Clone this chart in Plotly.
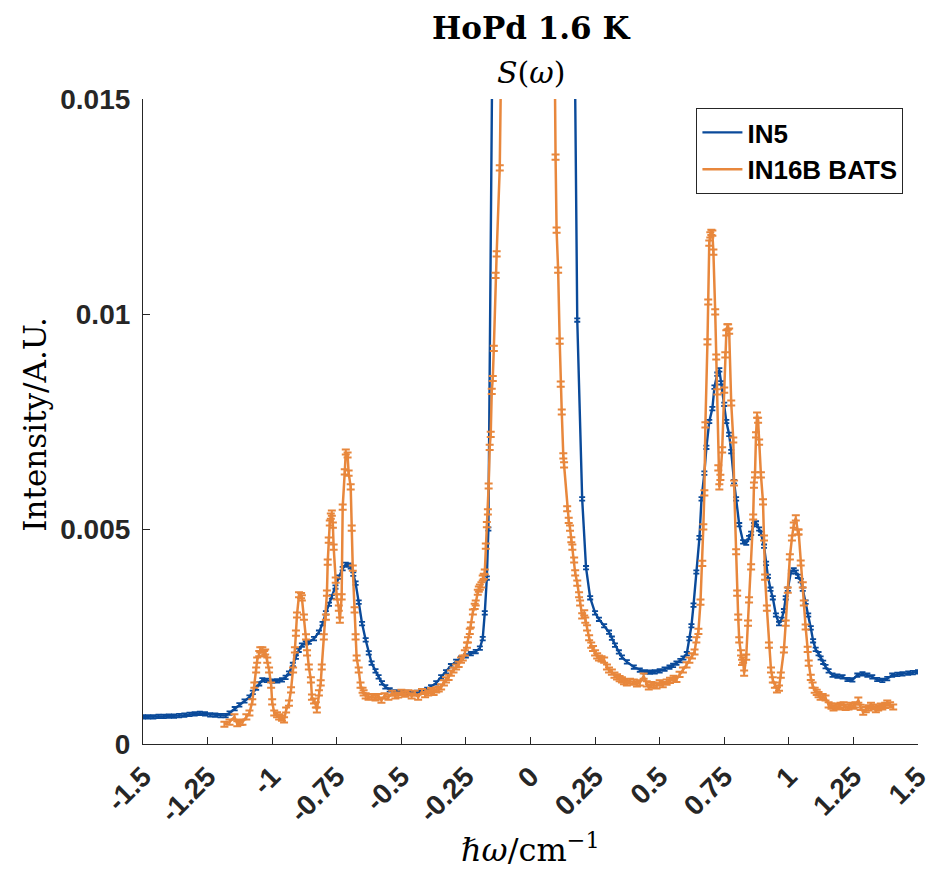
import plotly.graph_objects as go

# ---------------- data ----------------
in5_x = [-1.5, -1.48, -1.46, -1.44, -1.42, -1.40, -1.38, -1.36, -1.34, -1.32, -1.30, -1.28, -1.26, -1.24,
         -1.22, -1.20, -1.18, -1.165, -1.145, -1.127, -1.107, -1.088, -1.075, -1.062, -1.05, -1.038,
         -1.02, -1.0, -0.98, -0.962, -0.948, -0.935, -0.92, -0.908, -0.897, -0.885, -0.87, -0.858,
         -0.838, -0.819, -0.805, -0.792, -0.78, -0.769, -0.755, -0.742, -0.727, -0.715, -0.704, -0.696,
         -0.686, -0.677, -0.665, -0.652, -0.638, -0.626, -0.615, -0.600, -0.588, -0.575, -0.562, -0.545,
         -0.523, -0.500, -0.480, -0.462, -0.440, -0.423, -0.400, -0.385, -0.365, -0.346, -0.327, -0.308,
         -0.288, -0.269, -0.250, -0.231, -0.212, -0.196, -0.185, -0.177, -0.169, -0.163, -0.148, -0.131,
         -0.114, -0.08, -0.04, 0.0, 0.04, 0.08, 0.114, 0.131, 0.147, 0.164, 0.181, 0.200, 0.215, 0.231,
         0.250, 0.265, 0.285, 0.304, 0.315, 0.327, 0.342, 0.354, 0.373, 0.400, 0.423, 0.442, 0.462,
         0.481, 0.500, 0.519, 0.538, 0.552, 0.565, 0.580, 0.592, 0.605, 0.615, 0.623, 0.631, 0.642,
         0.654, 0.662, 0.673, 0.681, 0.692, 0.704, 0.712, 0.723, 0.731, 0.738, 0.750, 0.758, 0.769,
         0.777, 0.788, 0.796, 0.808, 0.823, 0.835, 0.846, 0.854, 0.865, 0.873, 0.885, 0.892, 0.904,
         0.912, 0.919, 0.929, 0.938, 0.950, 0.962, 0.972, 0.981, 0.988, 0.996, 1.008, 1.019, 1.027,
         1.035, 1.046, 1.054, 1.065, 1.075, 1.085, 1.094, 1.104, 1.115, 1.123, 1.133, 1.142, 1.154,
         1.169, 1.188, 1.208, 1.227, 1.246, 1.265, 1.285, 1.304, 1.323, 1.342, 1.362, 1.381, 1.400,
         1.420, 1.440, 1.462, 1.480, 1.500]
in5_y = [0.00063, 0.00063, 0.00063, 0.00064, 0.00064, 0.00065, 0.00065, 0.00066, 0.00067, 0.00069,
         0.00070, 0.00071, 0.00070, 0.00068, 0.00067, 0.00066, 0.00066, 0.00072, 0.00082, 0.00091,
         0.00100, 0.00109, 0.00120, 0.00130, 0.00140, 0.00149, 0.00148, 0.00146, 0.00147, 0.00149,
         0.00155, 0.00165, 0.00185, 0.00202, 0.00218, 0.00230, 0.00235, 0.00237, 0.00245, 0.00260,
         0.00280, 0.00305, 0.00325, 0.00342, 0.00365, 0.00388, 0.00408, 0.00418, 0.00416, 0.00412,
         0.00395, 0.00374, 0.00330, 0.00280, 0.00242, 0.00212, 0.00188, 0.00170, 0.00156, 0.00142,
         0.00133, 0.00126, 0.00121, 0.00121, 0.00120, 0.00119, 0.00120, 0.00122, 0.00127, 0.00133,
         0.00142, 0.00156, 0.00168, 0.00182, 0.00192, 0.00200, 0.00205, 0.00210, 0.00215, 0.00223,
         0.00245, 0.00305, 0.00386, 0.00500, 0.01600, 0.03500, 0.06000, 0.12000, 0.20000, 0.25000,
         0.20000, 0.12000, 0.06000, 0.04000, 0.03000, 0.02100, 0.00986, 0.00570, 0.00410, 0.00340,
         0.00305, 0.00290, 0.00275, 0.00260, 0.00246, 0.00230, 0.00214, 0.00202, 0.00191, 0.00179,
         0.00172, 0.00168, 0.00167, 0.00168, 0.00170, 0.00174, 0.00179, 0.00183, 0.00188, 0.00194,
         0.00200, 0.00210, 0.00245, 0.00275, 0.00323, 0.00400, 0.00480, 0.00570, 0.00630, 0.00690,
         0.00750, 0.00780, 0.00830, 0.00860, 0.00870, 0.00840, 0.00790, 0.00750, 0.00720, 0.00680,
         0.00610, 0.00570, 0.00510, 0.00470, 0.00467, 0.00480, 0.00490, 0.00510, 0.00514, 0.00500,
         0.00490, 0.00460, 0.00420, 0.00390, 0.00360, 0.00340, 0.00300, 0.00280, 0.00290, 0.00310,
         0.00340, 0.00360, 0.00400, 0.00405, 0.00400, 0.00390, 0.00380, 0.00360, 0.00330, 0.00300,
         0.00270, 0.00240, 0.00220, 0.00210, 0.00200, 0.00190, 0.00180, 0.00170, 0.00160, 0.00158,
         0.00156, 0.00150, 0.00149, 0.00160, 0.00163, 0.00160, 0.00156, 0.00150, 0.00148, 0.00152,
         0.00160, 0.00162, 0.00163, 0.00165, 0.00166, 0.00168]

in16b_x = [-1.185, -1.165, -1.146, -1.135, -1.123, -1.115, -1.100, -1.088, -1.077, -1.069, -1.062,
           -1.058, -1.050, -1.046, -1.038, -1.031, -1.027, -1.019, -1.012, -1.004, -1.000, -0.992,
           -0.981, -0.973, -0.962, -0.954, -0.946, -0.935, -0.927, -0.919, -0.912, -0.908, -0.904,
           -0.896, -0.888, -0.885, -0.877, -0.869, -0.865, -0.858, -0.850, -0.846, -0.838, -0.831,
           -0.827, -0.819, -0.812, -0.808, -0.800, -0.792, -0.788, -0.785, -0.781, -0.777, -0.773,
           -0.769, -0.765, -0.762, -0.754, -0.750, -0.742, -0.738, -0.731, -0.727, -0.719, -0.715,
           -0.708, -0.704, -0.696, -0.692, -0.688, -0.681, -0.677, -0.673, -0.665, -0.658, -0.650,
           -0.646, -0.638, -0.627, -0.615, -0.600, -0.588, -0.577, -0.565, -0.550, -0.535, -0.523,
           -0.512, -0.500, -0.485, -0.473, -0.460, -0.448, -0.435, -0.420, -0.408, -0.396, -0.385,
           -0.375, -0.365, -0.355, -0.346, -0.335, -0.327, -0.317, -0.308, -0.298, -0.288, -0.278,
           -0.269, -0.262, -0.254, -0.246, -0.242, -0.235, -0.231, -0.223, -0.216, -0.212, -0.204,
           -0.200, -0.196, -0.190, -0.185, -0.181, -0.177, -0.173, -0.169, -0.165, -0.162, -0.158,
           -0.154, -0.150, -0.146, -0.142, -0.135, -0.131, -0.119, -0.108, -0.090, -0.060, -0.030,
           0.000, 0.030, 0.060, 0.080, 0.090, 0.097, 0.101, 0.107, 0.113, 0.117, 0.121, 0.127, 0.130,
           0.142, 0.148, 0.153, 0.158, 0.162, 0.169, 0.173, 0.181, 0.188, 0.192, 0.200, 0.208, 0.212,
           0.219, 0.227, 0.235, 0.242, 0.250, 0.258, 0.265, 0.275, 0.285, 0.296, 0.304, 0.315, 0.325,
           0.335, 0.345, 0.354, 0.362, 0.373, 0.385, 0.400, 0.412, 0.423, 0.438, 0.450, 0.458, 0.468,
           0.477, 0.488, 0.500, 0.512, 0.527, 0.540, 0.554, 0.565, 0.577, 0.590, 0.604, 0.615, 0.625,
           0.635, 0.642, 0.650, 0.658, 0.665, 0.669, 0.673, 0.677, 0.685, 0.688, 0.692, 0.696, 0.700,
           0.704, 0.708, 0.715, 0.719, 0.723, 0.727, 0.731, 0.735, 0.742, 0.750, 0.754, 0.758, 0.762,
           0.765, 0.769, 0.777, 0.785, 0.788, 0.796, 0.800, 0.804, 0.808, 0.815, 0.819, 0.823, 0.827,
           0.835, 0.842, 0.846, 0.854, 0.862, 0.865, 0.869, 0.873, 0.877, 0.881, 0.885, 0.892, 0.900,
           0.904, 0.908, 0.915, 0.923, 0.931, 0.938, 0.946, 0.954, 0.962, 0.969, 0.981, 0.988, 0.996,
           1.004, 1.012, 1.019, 1.027, 1.035, 1.038, 1.046, 1.054, 1.058, 1.065, 1.073, 1.077, 1.085,
           1.092, 1.100, 1.108, 1.115, 1.123, 1.131, 1.142, 1.154, 1.165, 1.173, 1.183, 1.192, 1.200,
           1.212, 1.220, 1.231, 1.240, 1.250, 1.258, 1.269, 1.278, 1.288, 1.298, 1.308, 1.318, 1.327,
           1.337, 1.346, 1.356, 1.362, 1.373, 1.381, 1.392, 1.404]
in16b_y = [0.00046, 0.00051, 0.00063, 0.00047, 0.00050, 0.00051, 0.00063, 0.00072, 0.00098, 0.00137,
           0.00172, 0.00195, 0.00210, 0.00219, 0.00219, 0.00210, 0.00214, 0.00195, 0.00172, 0.00137,
           0.00098, 0.00072, 0.00068, 0.00063, 0.00060, 0.00056, 0.00079, 0.00095, 0.00126, 0.00172,
           0.00219, 0.00258, 0.00300, 0.00347, 0.00345, 0.00340, 0.00295, 0.00249, 0.00212, 0.00179,
           0.00149, 0.00109, 0.00100, 0.00091, 0.00079, 0.00119, 0.00142, 0.00179, 0.00249, 0.00295,
           0.00351, 0.00423, 0.00474, 0.00514, 0.00530, 0.00537, 0.00509, 0.00458, 0.00381, 0.00342,
           0.00316, 0.00288, 0.00342, 0.00551, 0.00633, 0.00679, 0.00672, 0.00630, 0.00598, 0.00502,
           0.00409, 0.00312, 0.00249, 0.00200, 0.00172, 0.00137, 0.00125, 0.00119, 0.00112, 0.00109,
           0.00110, 0.00107, 0.00110, 0.00102, 0.00112, 0.00109, 0.00118, 0.00112, 0.00114, 0.00120,
           0.00116, 0.00119, 0.00112, 0.00118, 0.00109, 0.00122, 0.00115, 0.00119, 0.00124, 0.00120,
           0.00126, 0.00128, 0.00133, 0.00142, 0.00149, 0.00155, 0.00165, 0.00172, 0.00179, 0.00185,
           0.00195, 0.00200, 0.00212, 0.00230, 0.00242, 0.00262, 0.00277, 0.00307, 0.00320, 0.00328,
           0.00353, 0.00360, 0.00365, 0.00370, 0.00386, 0.00390, 0.00400, 0.00460, 0.00510, 0.00540,
           0.00600, 0.00690, 0.00720, 0.00820, 0.00850, 0.00920, 0.01090, 0.01140, 0.01340, 0.01700,
           0.02500, 0.04000, 0.06000, 0.07000, 0.06000, 0.04000, 0.02500, 0.01700, 0.01365, 0.01195,
           0.01102, 0.00937, 0.00837, 0.00772, 0.00670, 0.00649, 0.00547, 0.00520, 0.00502, 0.00475,
           0.00458, 0.00428, 0.00398, 0.00374, 0.00347, 0.00328, 0.00298, 0.00305, 0.00288, 0.00270,
           0.00247, 0.00230, 0.00222, 0.00212, 0.00205, 0.00200, 0.00198, 0.00195, 0.00179, 0.00172,
           0.00167, 0.00160, 0.00156, 0.00152, 0.00149, 0.00145, 0.00142, 0.00146, 0.00144, 0.00140,
           0.00142, 0.00158, 0.00140, 0.00133, 0.00138, 0.00137, 0.00135, 0.00142, 0.00138, 0.00144,
           0.00148, 0.00153, 0.00150, 0.00162, 0.00172, 0.00184, 0.00195, 0.00205, 0.00214, 0.00242,
           0.00262, 0.00330, 0.00420, 0.00505, 0.00584, 0.00742, 0.00935, 0.01028, 0.01165, 0.01184,
           0.01190, 0.01188, 0.01144, 0.01005, 0.00900, 0.00819, 0.00642, 0.00598, 0.00620, 0.00684,
           0.00823, 0.00905, 0.00956, 0.00970, 0.00970, 0.00960, 0.00793, 0.00707, 0.00607, 0.00447,
           0.00351, 0.00295, 0.00242, 0.00212, 0.00190, 0.00195, 0.00165, 0.00202, 0.00281, 0.00335,
           0.00412, 0.00528, 0.00602, 0.00626, 0.00719, 0.00765, 0.00753, 0.00702, 0.00626, 0.00563,
           0.00479, 0.00388, 0.00316, 0.00230, 0.00172, 0.00149, 0.00137, 0.00126, 0.00130, 0.00160,
           0.00219, 0.00281, 0.00358, 0.00435, 0.00479, 0.00509, 0.00526, 0.00493, 0.00493, 0.00421,
           0.00370, 0.00328, 0.00272, 0.00220, 0.00188, 0.00155, 0.00137, 0.00125, 0.00120, 0.00115,
           0.00109, 0.00110, 0.00107, 0.00091, 0.00088, 0.00084, 0.00088, 0.00086, 0.00090, 0.00091,
           0.00085, 0.00086, 0.00090, 0.00088, 0.00091, 0.00102, 0.00085, 0.00074, 0.00080, 0.00084,
           0.00090, 0.00086, 0.00080, 0.00084, 0.00088, 0.00086, 0.00090, 0.00095, 0.00091, 0.00086]

in5_err = 0.00004
in16b_err = 0.00006

x_tick_vals = [-1.5, -1.25, -1.0, -0.75, -0.5, -0.25, 0.0, 0.25, 0.5, 0.75, 1.0, 1.25, 1.5]
x_tick_text = ["-1.5", "-1.25", "-1", "-0.75", "-0.5", "-0.25", "0", "0.25", "0.5", "0.75", "1", "1.25", "1.5"]
y_tick_vals = [0, 0.005, 0.01, 0.015]
y_tick_text = ["0", "0.005", "0.01", "0.015"]

BLUE = "#0a4a9a"
ORANGE = "#e8873c"
AXC = "#262626"
SANS = "Liberation Sans"
SERIF = "DejaVu Serif"

# pixel geometry of the plot area (for placing free text)
PL, PR, PT, PB = 143, 923, 99, 744


def px_x(p):
    return (p - PL) / (PR - PL)


def px_y(p):
    return (PB - p) / (PB - PT)


fig = go.Figure()
fig.add_trace(go.Scatter(
    x=in5_x, y=in5_y, mode="lines", name="IN5",
    line=dict(color=BLUE, width=2.4),
    error_y=dict(type="constant", value=in5_err, color=BLUE, thickness=1.8, width=3),
))
fig.add_trace(go.Scatter(
    x=in16b_x, y=in16b_y, mode="lines", name="IN16B BATS",
    line=dict(color=ORANGE, width=2.5),
    error_y=dict(type="constant", value=in16b_err, color=ORANGE, thickness=2, width=4),
))

fig.update_layout(
    width=944, height=869,
    margin=dict(l=PL, r=944 - PR, t=PT, b=869 - PB),
    paper_bgcolor="white", plot_bgcolor="white",
    showlegend=True,
    legend=dict(
        x=px_x(700), y=px_y(108), xanchor="left", yanchor="top",
        bgcolor="white", bordercolor=AXC, borderwidth=1,
        font=dict(family=SANS, size=26, color="black", weight="bold"),
        tracegroupgap=0, itemwidth=40,
    ),
    xaxis=dict(
        range=[-1.5, 1.5], tickmode="array", tickvals=x_tick_vals, ticktext=x_tick_text,
        tickangle=-45, ticks="inside", ticklen=7, tickcolor=AXC, tickwidth=1,
        showline=True, linecolor=AXC, linewidth=1.2, showgrid=False, zeroline=False,
        tickfont=dict(family=SANS, size=28, color=AXC, weight="bold"),
        ticklabelstandoff=4,
    ),
    yaxis=dict(
        range=[0, 0.015], tickmode="array", tickvals=y_tick_vals, ticktext=y_tick_text,
        ticks="inside", ticklen=7, tickcolor=AXC, tickwidth=1,
        showline=True, linecolor=AXC, linewidth=1.2, showgrid=False, zeroline=False,
        tickfont=dict(family=SANS, size=28, color=AXC, weight="bold"),
        ticklabelstandoff=6,
    ),
    annotations=[
        dict(text="<b>HoPd 1.6 K</b>", x=0.5, y=px_y(28), xref="paper", yref="paper",
             xanchor="center", yanchor="middle",
             showarrow=False, font=dict(family=SERIF, size=31, color="black")),
        dict(text="<i>S</i>(<i>ω</i>)", x=0.5, y=px_y(72), xref="paper", yref="paper",
             xanchor="center", yanchor="middle",
             showarrow=False, font=dict(family=SERIF, size=30, color="black")),
        dict(text="Intensity/A.U.", x=px_x(34), y=px_y(424), xref="paper", yref="paper",
             xanchor="center", yanchor="middle",
             textangle=-90, showarrow=False, font=dict(family=SERIF, size=31, color="black")),
        dict(text="<i>ℏω</i>/cm<sup>−1</sup>", x=0.5, y=px_y(848), xref="paper", yref="paper",
             xanchor="center", yanchor="middle",
             showarrow=False, font=dict(family=SERIF, size=32, color="black")),
    ],
)

fig.write_html("out.html")
